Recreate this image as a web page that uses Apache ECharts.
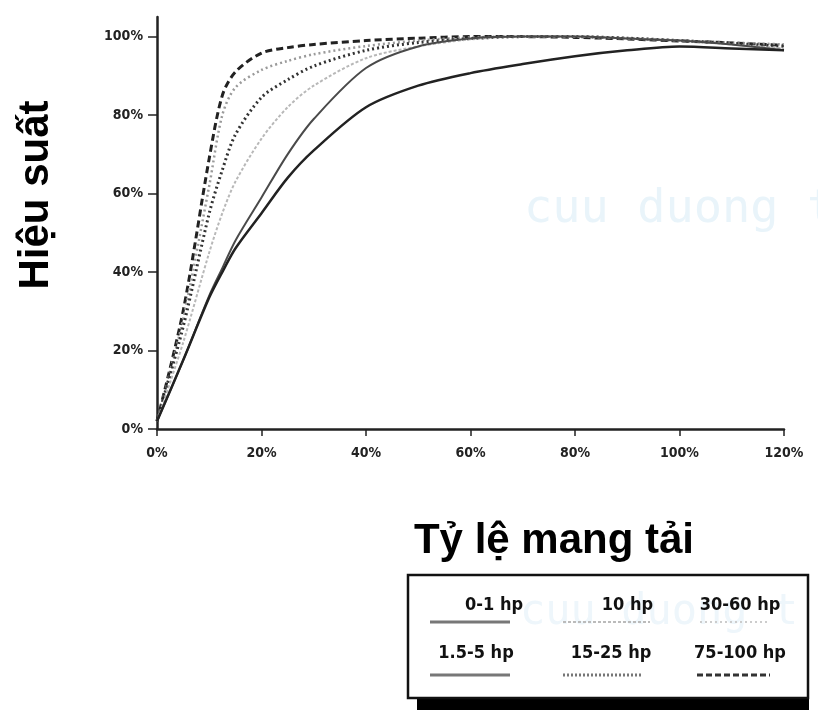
<!DOCTYPE html>
<html>
<head>
<meta charset="utf-8">
<script src="https://cdn.jsdelivr.net/npm/echarts@6/dist/echarts.min.js"></script>
<style>
  html, body { margin: 0; padding: 0; background: #fff; }
  #main { width: 818px; height: 713px; }
</style>
</head>
<body>
<div id="main"></div>
<script>
// tỷ lệ mang tải (%)
var loads = [0, 5, 10, 12.5, 15, 20, 25, 30, 40, 50, 60, 70, 80, 90, 100, 110, 120]
// hiệu suất (%) theo công suất động cơ
var eff01 = [2, 17.5, 33.5, 40, 46, 55, 64, 71, 82, 87.5, 90.7, 93, 95, 96.5, 97.5, 97, 96.5]
var eff155 = [2, 17.5, 34, 41, 48, 59, 70, 79, 92, 97.5, 99.5, 100, 100, 99.5, 99, 98, 96.5]
var eff10 = [2, 22, 45, 55, 63, 74, 82, 87.5, 94.5, 97.5, 99.3, 100, 100, 99.5, 99, 98, 97]
var eff1525 = [2, 26, 55, 66, 75, 84.5, 89, 92.5, 96.5, 98.5, 99.5, 100, 100, 99.6, 99, 98.3, 97.5]
var eff3060 = [2, 28, 62, 80, 87, 91.5, 93.8, 95.5, 97.6, 99, 99.8, 100, 100, 99.6, 99, 98.5, 98]
var eff75100 = [2, 30, 69, 85, 91, 95.8, 97.2, 98, 99, 99.6, 100, 100, 99.8, 99.4, 98.9, 98.4, 97.8]
var names = ['0-1 hp', '1.5-5 hp', '10 hp', '15-25 hp', '30-60 hp', '75-100 hp']
var tickValues = [0, 20, 40, 60, 80, 100]
var xTickValues = [0, 20, 40, 60, 80, 100, 120]

var styles = [
  {color: '#222', width: 2.5, type: 'solid'},
  {color: '#4a4a4a', width: 2, type: 'solid'},
  {color: '#b8b8b8', width: 2, type: [3, 2]},
  {color: '#333', width: 3, type: [2, 3]},
  {color: '#9a9a9a', width: 2.5, type: [2, 3]},
  {color: '#222', width: 3, type: [7, 4]}
]
var values = [eff01, eff155, eff10, eff1525, eff3060, eff75100]

function pairs (ys) {
  return loads.map(function (x, i) { return [x, ys[i]] })
}

var series = names.map(function (n, i) {
  return {
    name: n,
    type: 'line',
    smooth: 0.3,
    showSymbol: false,
    z: 6 - i,
    lineStyle: styles[i],
    data: pairs(values[i])
  }
})

var narrow = '"DejaVu Sans Condensed", "Liberation Sans Narrow", "Open Sans", sans-serif'
var labelFont = {color: '#222', fontSize: 14, fontWeight: 'bold', fontFamily: narrow}
var legendFont = 'bold 18px ' + narrow

// legend box (text above line sample)
var legendItems = [
  {text: names[0], x: 523, y: 605, align: 'right', lx1: 430, lx2: 510, ly: 622, s: {stroke: '#777', lineWidth: 3}},
  {text: names[2], x: 653, y: 605, align: 'right', lx1: 563, lx2: 650, ly: 622, s: {stroke: '#bbb', lineWidth: 2, lineDash: [3, 2]}},
  {text: names[4], x: 740, y: 605, align: 'center', lx1: 700, lx2: 770, ly: 622, s: {stroke: '#ccc', lineWidth: 2, lineDash: [2, 3]}},
  {text: names[1], x: 476, y: 653, align: 'center', lx1: 430, lx2: 510, ly: 675, s: {stroke: '#777', lineWidth: 3}},
  {text: names[3], x: 611, y: 653, align: 'center', lx1: 563, lx2: 642, ly: 675, s: {stroke: '#777', lineWidth: 3, lineDash: [2, 2]}},
  {text: names[5], x: 740, y: 653, align: 'center', lx1: 697, lx2: 770, ly: 675, s: {stroke: '#333', lineWidth: 3, lineDash: [6, 3]}}
]
var legendGraphics = [
  {type: 'rect', shape: {x: 417, y: 688, width: 392, height: 22}, style: {fill: '#000'}, z: 10},
  {type: 'rect', shape: {x: 408, y: 575, width: 400, height: 123}, style: {fill: '#fff', stroke: '#111', lineWidth: 2.5}, z: 11},
  {type: 'text', left: 520, top: 592, style: {text: 'cuu duong t', font: '42px "DejaVu Sans Mono"', fill: '#eef6fb'}, z: 12}
]
legendItems.forEach(function (it) {
  legendGraphics.push({type: 'text', x: it.x, y: it.y, z: 13,
    style: {text: it.text, font: legendFont, fill: '#111', textAlign: it.align, textVerticalAlign: 'middle'}})
  legendGraphics.push({type: 'line', z: 13, shape: {x1: it.lx1, y1: it.ly, x2: it.lx2, y2: it.ly}, style: it.s})
})

var option = {
  backgroundColor: '#fff',
  animation: false,
  grid: {left: 157, right: 34, top: 17, bottom: 284},
  xAxis: {
    type: 'value',
    min: 0,
    max: 120,
    interval: 20,
    axisLine: {lineStyle: {color: '#222', width: 2.5}},
    axisTick: {show: true, length: 7, lineStyle: {color: '#222', width: 1.5}, customValues: xTickValues},
    axisLabel: {margin: 17, formatter: '{value}%', customValues: xTickValues, ...labelFont},
    splitLine: {show: false}
  },
  yAxis: {
    type: 'value',
    min: 0,
    max: 105,
    axisLine: {show: true, lineStyle: {color: '#222', width: 2.5}},
    axisTick: {show: true, length: 9, lineStyle: {color: '#222', width: 1.5}, customValues: tickValues},
    axisLabel: {margin: 14, formatter: '{value}%', customValues: tickValues, ...labelFont},
    splitLine: {show: false}
  },
  graphic: [
    {type: 'text', left: 524, top: 186, z: 0, silent: true,
      style: {text: 'cuu duong t', font: '47px "DejaVu Sans Mono"', fill: '#e9f4fa'}},
    {type: 'text', x: 36, y: 195, rotation: Math.PI / 2, z: 20,
      style: {text: 'Hiệu suất', font: 'bold 42px "Liberation Sans"', fill: '#000', textAlign: 'center', textVerticalAlign: 'middle'}},
    {type: 'text', x: 554, y: 541, z: 20,
      style: {text: 'Tỷ lệ mang tải', font: 'bold 42px "Liberation Sans"', fill: '#000', textAlign: 'center', textVerticalAlign: 'middle'}}
  ].concat(legendGraphics),
  series: series
}

var myChart = echarts.init(document.getElementById('main'))
myChart.setOption(option)
</script>
</body>
</html>
